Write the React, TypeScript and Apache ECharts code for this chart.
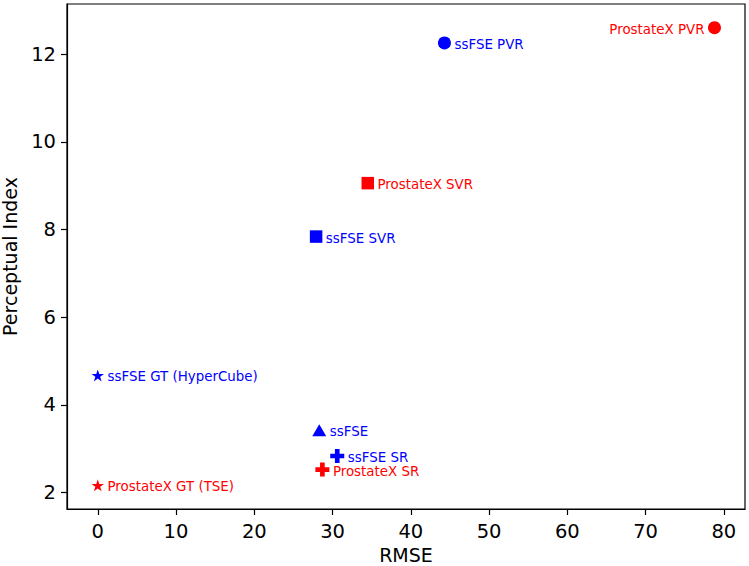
import React, { useEffect, useRef } from "react";
import * as echarts from "echarts";

const pointNames = [
  "ssFSE PVR",
  "ProstateX PVR",
  "ProstateX SVR",
  "ssFSE SVR",
  "ssFSE GT (HyperCube)",
  "ssFSE",
  "ssFSE SR",
  "ProstateX SR",
  "ProstateX GT (TSE)",
];
const rmseValues = [44.3, 78.8, 34.5, 27.9, 0, 28.3, 30.6, 28.7, 0];
const perceptualValues = [12.26, 12.61, 9.06, 7.84, 4.67, 3.42, 2.83, 2.52, 2.16];

const xTicks = [0, 10, 20, 30, 40, 50, 60, 70, 80];
const yTicks = [2, 4, 6, 8, 10, 12];

const BLUE = "#0000ff";
const RED = "#ff0000";
const FONT = "DejaVu Sans";

function starPath(): string {
  const pts: string[] = [];
  for (let i = 0; i < 10; i++) {
    const r = i % 2 === 0 ? 1 : 0.381966;
    const a = (Math.PI / 5) * i - Math.PI / 2;
    pts.push(`${(r * Math.cos(a)).toFixed(4)},${(r * Math.sin(a)).toFixed(4)}`);
  }
  return "path://M" + pts.join("L") + "Z";
}
const PLUS = "path://M-1,-3L1,-3L1,-1L3,-1L3,1L1,1L1,3L-1,3L-1,1L-3,1L-3,-1L-1,-1Z";

function markerFor(name: string): { symbol: string; size: number | number[] } {
  if (name.includes("GT")) return { symbol: starPath(), size: [12.5, 12] };
  if (name.endsWith("SR")) return { symbol: PLUS, size: 14 };
  if (name.endsWith("SVR")) return { symbol: "rect", size: 12.5 };
  if (name.endsWith("PVR")) return { symbol: "circle", size: 13 };
  return { symbol: "triangle", size: [14, 12] };
}

export default function App() {
  const ref = useRef<HTMLDivElement>(null);
  useEffect(() => {
    if (!ref.current) return;
    const chart = echarts.init(ref.current, undefined, { renderer: "svg" });
    const data = pointNames.map((name, i) => {
      const color = name.startsWith("ssFSE") ? BLUE : RED;
      const m = markerFor(name);
      const left = name === "ProstateX PVR";
      return {
        name,
        value: [rmseValues[i], perceptualValues[i]],
        symbol: m.symbol,
        symbolSize: m.size,
        itemStyle: { color, opacity: 1 },
        label: {
          show: true,
          formatter: name,
          position: left ? "left" : "right",
          distance: 3.5,
          offset: [0, 1.5],
          color,
          fontSize: 13.4,
          fontFamily: FONT,
        },
      };
    });
    chart.setOption({
      animation: false,
      backgroundColor: "#ffffff",
      grid: {
        left: 67,
        right: 4,
        top: 4,
        bottom: 57,
        containLabel: false,
        outerBoundsMode: "none",
        show: true,
        borderColor: "#000",
        borderWidth: 1.2,
      },
      xAxis: {
        type: "value",
        min: -3.93,
        max: 82.7,
        name: "RMSE",
        nameLocation: "middle",
        nameGap: 35,
        nameTextStyle: { fontSize: 19, fontFamily: FONT, color: "#000" },
        splitLine: { show: false },
        axisLine: { show: true, onZero: false, lineStyle: { color: "#000", width: 1.2 } },
        axisTick: { show: true, length: 6, customValues: xTicks, lineStyle: { color: "#000", width: 1.2 } },
        axisLabel: { customValues: xTicks, fontSize: 19.5, fontFamily: FONT, color: "#000", margin: 12 },
      },
      yAxis: {
        type: "value",
        min: 1.62,
        max: 13.15,
        name: "Perceptual Index",
        nameLocation: "middle",
        nameGap: 48,
        nameTextStyle: { fontSize: 19, fontFamily: FONT, color: "#000" },
        splitLine: { show: false },
        axisLine: { show: true, onZero: false, lineStyle: { color: "#000", width: 1.2 } },
        axisTick: { show: true, length: 6, customValues: yTicks, lineStyle: { color: "#000", width: 1.2 } },
        axisLabel: { customValues: yTicks, fontSize: 19.5, fontFamily: FONT, color: "#000", margin: 11 },
      },
      series: [
        {
          type: "scatter",
          data,
          itemStyle: { opacity: 1 },
          emphasis: { disabled: true },
        },
      ],
    });
    return () => chart.dispose();
  }, []);
  return (
    <div
      ref={ref}
      style={{ position: "fixed", left: 0, top: 0, width: 749, height: 566, background: "#fff" }}
    />
  );
}
